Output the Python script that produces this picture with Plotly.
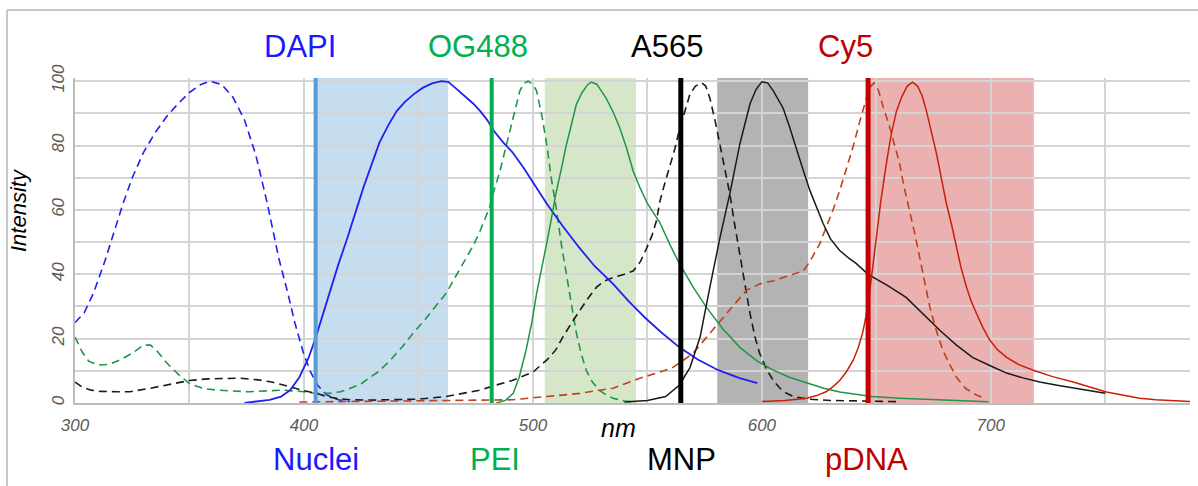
import plotly.graph_objects as go

# ---------------- data (wavelength nm, intensity %) ----------------
dapi_ex_x = [300, 304, 308, 313, 317, 321, 325, 330, 335, 340, 345, 350, 355, 359, 364, 369, 374, 379, 384, 389, 393, 396, 400, 403, 406, 410, 415, 420]
dapi_ex_y = [25, 28, 34, 44, 53, 62, 70, 78, 84, 89, 93, 96.5, 99, 100, 99, 95, 88, 77, 62, 45, 34, 25, 15, 9.5, 5.5, 2.5, 1, 0.4]

dapi_em_x = [374, 380, 385, 390, 394, 398, 402, 405, 408, 411, 415, 418.6, 422, 426, 430, 433, 437, 440.5, 444, 448, 452, 456, 460, 463, 466, 470, 474, 477, 480, 483, 487, 491, 496, 501, 506, 513, 520, 527, 535, 542, 549, 556, 564, 572, 581, 590, 598]
dapi_em_y = [0, 0.5, 1, 2, 4, 8, 14, 20, 27, 34, 43, 50.5, 58, 67, 75, 81, 86.5, 90.7, 93.5, 96, 98, 99.3, 100, 99.8, 98, 95.5, 93, 90.7, 88, 84.5, 81, 78, 73, 67.5, 62, 55, 48.5, 42.5, 37, 31.5, 26.5, 22, 17.3, 13.5, 10.2, 7.8, 6.2]

og_ex_x = [300, 303, 306, 310, 315, 320, 325, 330, 333, 336, 340, 345, 350, 356, 362, 370, 376, 385, 391, 400, 405, 411, 416, 420, 425, 430, 433, 438, 443, 448, 453, 458, 462, 466, 470, 474, 477, 481, 483, 485.6, 488, 490, 492, 494.3, 496, 498, 500, 501.6, 504, 506, 508, 510.3, 512.5, 514.7, 517, 519, 521, 523.4, 526, 529, 532, 535, 540, 545]
og_ex_y = [20.5, 16, 13, 11.8, 12, 13.5, 15.5, 18, 18, 16, 12.5, 9, 6, 4.5, 4, 3.7, 3.5, 3.8, 4, 3.5, 3, 3, 3.5, 4.5, 6, 8.5, 10, 13.5, 17.5, 22, 26, 30.5, 34, 39, 44, 49, 53.6, 60.7, 66, 72, 79, 85, 91, 97, 99.3, 100, 99, 97, 89, 80.5, 70, 60, 49, 39, 30, 21.7, 15.5, 10, 6.5, 4, 2.5, 1.5, 0.6, 0.3]

og_em_x = [484, 488, 491.4, 494, 497, 499.5, 501.6, 504, 506, 508, 510, 512.5, 514.7, 517, 519, 521.5, 524, 525.6, 528, 532, 535, 538, 541, 543.8, 546.7, 550, 555.5, 560, 564, 570, 575.8, 583, 590.4, 598, 605, 612, 619.5, 627, 634, 648, 660, 675, 690, 699]
og_em_y = [0, 0.8, 3, 8, 16.4, 25, 34, 42, 49.5, 57, 65, 73, 80.5, 87, 92.9, 96.5, 99, 99.7, 99, 94.7, 90.5, 85.4, 79, 72, 67, 62, 56, 49, 43.3, 36, 29.7, 23, 17.3, 13, 10.2, 8, 6.2, 4.6, 3.4, 2, 1.5, 1, 0.6, 0.4]

a565_ex_x = [300, 303, 307, 311, 318, 324, 333, 340, 344, 350, 358, 365, 372, 380, 386, 391, 396, 400, 405.5, 410, 415, 420, 430, 440, 450, 462, 470, 477, 484, 491, 500, 506, 510, 513, 517, 520.5, 524, 527.8, 531, 535, 540, 543.8, 547, 549.6, 552, 554, 555.5, 557.5, 559.8, 562, 564, 566, 568.6, 571, 573.7, 575.5, 577.3, 579.5, 581.7, 584, 586, 588, 590.4, 592.5, 594.8, 597, 599, 602, 605, 608, 610.8, 614, 620, 630, 640, 660]
a565_ex_y = [6.5, 5, 4, 3.6, 3.5, 3.5, 4.6, 5.5, 6.2, 7, 7.5, 7.7, 7.7, 7.2, 6.5, 5.6, 4.5, 3.8, 3, 2, 1.3, 1, 0.9, 1, 1.2, 2, 3, 4, 5.6, 7, 9.6, 13.3, 16.5, 20.4, 25, 28.8, 32.5, 36, 37.8, 39, 40, 41, 44, 48, 52, 56.7, 62.8, 68, 73.5, 79, 85, 90, 96, 98.5, 99.5, 98.5, 94.7, 88, 80.5, 72, 65, 56, 46.4, 37, 27.9, 20.5, 15.5, 10.5, 7, 4.5, 3, 2, 1.2, 0.8, 0.6, 0.4]

a565_em_x = [540, 550, 558, 564, 568.6, 573, 577.3, 581.7, 586, 590.4, 594.8, 597.5, 600, 602.5, 605, 609.3, 612, 615, 618, 621, 624, 626.8, 630, 634, 638, 641.3, 646.4, 650, 655, 663, 670, 677.7, 685, 692, 700, 706.9, 714, 721.4, 729, 736, 743, 750]
a565_em_y = [0.3, 0.8, 2, 5.6, 11, 20.4, 36, 51.4, 65, 80.5, 92.9, 97.5, 99.8, 99.5, 97, 91.6, 86, 79, 72.5, 66, 60.5, 55.7, 51, 47.4, 45, 43.3, 40, 38.5, 36.5, 32.8, 28, 22.6, 18, 14.2, 11.5, 9.3, 7.8, 6.5, 5.5, 4.6, 3.8, 3]

cy5_ex_x = [398, 410, 430, 450, 470, 480, 491, 506, 520.5, 535, 546.7, 555, 561, 564, 570, 575.8, 580, 584.6, 589, 593.3, 599, 605, 612, 618, 621, 625.3, 628, 631, 634, 637, 640, 642.8, 645, 647, 649, 651, 653, 656, 658, 660, 662, 664.6, 667, 669, 671, 673.4, 676, 679, 682, 685, 689, 693.7, 696]
cy5_ex_y = [0.3, 0.4, 0.5, 0.5, 0.7, 0.8, 1, 2, 3, 4.6, 7.7, 9.5, 11, 12.4, 15.5, 20.4, 24, 27.9, 31.5, 35, 37, 38, 39.5, 41, 44, 49.5, 54.5, 59.8, 66, 73, 80, 87.6, 93, 98, 99.5, 97, 92, 85.4, 80, 75, 67.5, 59.8, 52, 45, 37.5, 29.7, 23, 16.4, 12, 8, 4.5, 2.5, 1.8]

cy5_em_x = [600, 610, 619.5, 624, 628, 631, 634, 637, 639.9, 642, 644, 645.5, 647, 648.5, 650, 652, 654.5, 656.5, 658.8, 661, 663.5, 665.8, 668, 670, 671.9, 674, 676.3, 678.5, 680.6, 683, 685, 687, 689.4, 691.5, 693.7, 696.5, 699.6, 703, 706.9, 712, 718.5, 727, 736, 743, 750.5, 758, 765, 772, 779.6, 787]
cy5_em_y = [0.5, 0.8, 1.5, 2.3, 3.5, 5, 7, 9.8, 13.3, 17, 21.7, 27, 34, 43, 52.6, 63, 75, 83.5, 90.7, 95, 98.5, 99.7, 98.5, 95.5, 90.7, 84.5, 77.4, 69.5, 62, 55, 48.3, 42, 36, 31.5, 27.9, 23.5, 19.5, 16.5, 14.2, 12, 10.2, 8.2, 6.5, 5, 3.4, 2.4, 1.5, 1, 0.7, 0.5]

# filter bands (nm) and laser lines (nm)
band_lo = [404.8, 505.2, 580.5, 647.0]
band_hi = [462.9, 545.0, 620.2, 718.8]
laser_nm = [405.1, 482.0, 564.6, 646.4]

dye_labels = ["DAPI", "OG488", "A565", "Cy5"]
target_labels = ["Nuclei", "PEI", "MNP", "pDNA"]
x_ticks = [300, 400, 500, 600, 700]
y_ticks = [0, 20, 40, 60, 80, 100]

# ---------------- styling ----------------
SANS = "Liberation Sans, Arial, sans-serif"
dye_text_col = ["#1a1aff", "#00b050", "#000000", "#c00000"]
curve_col = ["#2020f0", "#1e9646", "#1a1a1a", "#c0401c"]
em_col = ["#2020f0", "#1e9646", "#1a1a1a", "#c8200a"]
band_fill = ["#c6dcef", "#d5e6c9", "#b3b3b3", "#ebb1b1"]
laser_col = ["#5b9bd5", "#00b050", "#000000", "#c00000"]
laser_w = [4, 4, 5, 5]

fig = go.Figure()

ex_sets = [(dapi_ex_x, dapi_ex_y), (og_ex_x, og_ex_y), (a565_ex_x, a565_ex_y), (cy5_ex_x, cy5_ex_y)]
em_sets = [(dapi_em_x, dapi_em_y), (og_em_x, og_em_y), (a565_em_x, a565_em_y), (cy5_em_x, cy5_em_y)]

for i, (xs, ys) in enumerate(ex_sets):
    fig.add_trace(go.Scatter(x=xs, y=ys, mode="lines", showlegend=False, hoverinfo="skip",
                             line=dict(color=curve_col[i], width=1.6, dash="8px,5px")))
for i, (xs, ys) in enumerate(em_sets):
    fig.add_trace(go.Scatter(x=xs, y=ys, mode="lines", showlegend=False, hoverinfo="skip",
                             line=dict(color=em_col[i], width=1.8 if i == 0 else 1.5)))

W, H = 1198, 486
L, R, T, B = 75, 8, 78, 83
pw, ph = W - L - R, H - T - B
def px(xp):
    return (xp - L) / pw
def py(yp):
    return (H - B - yp) / ph

shapes = []
for i in range(4):
    shapes.append(dict(type="rect", xref="x", yref="y", x0=band_lo[i], x1=band_hi[i], y0=0, y1=101,
                       fillcolor=band_fill[i], line=dict(width=0), layer="below"))
for i in range(4):
    shapes.append(dict(type="line", xref="x", yref="y", x0=laser_nm[i], x1=laser_nm[i], y0=0, y1=101,
                       line=dict(color=laser_col[i], width=laser_w[i]), layer="above"))
# outer frame (top and left edges)
shapes.append(dict(type="line", xref="paper", yref="paper", x0=px(7), x1=px(1200), y0=py(10), y1=py(10),
                   line=dict(color="#c8c8c8", width=2)))
shapes.append(dict(type="line", xref="paper", yref="paper", x0=px(7), x1=px(7), y0=py(10), y1=py(490),
                   line=dict(color="#c8c8c8", width=2)))

annotations = []
top_x_px = [300, 478, 667, 845]
bot_x_px = [316, 495, 681, 866]
for i in range(4):
    annotations.append(dict(text=dye_labels[i], xref="paper", yref="paper", x=px(top_x_px[i]), y=py(46),
                            xanchor="center", yanchor="middle", showarrow=False,
                            font=dict(family=SANS, size=31, color=dye_text_col[i])))
    annotations.append(dict(text=target_labels[i], xref="paper", yref="paper", x=px(bot_x_px[i]), y=py(459),
                            xanchor="center", yanchor="middle", showarrow=False,
                            font=dict(family=SANS, size=31, color=dye_text_col[i])))
annotations.append(dict(text="Intensity", xref="paper", yref="paper", x=px(18), y=py(210), textangle=-90,
                        xanchor="center", yanchor="middle", showarrow=False,
                        font=dict(family=SANS, size=22, color="#000000", style="italic")))
annotations.append(dict(text="nm", xref="paper", yref="paper", x=px(618), y=py(428),
                        xanchor="center", yanchor="middle", showarrow=False,
                        font=dict(family=SANS, size=25, color="#000000", style="italic")))

grid_col = "#d4d4d4"
tick_font = dict(family=SANS, size=17, color="#5a5a5a", style="italic")

fig.update_layout(
    width=W, height=H,
    margin=dict(l=L, r=R, t=T, b=B),
    paper_bgcolor="white", plot_bgcolor="white",
    shapes=shapes, annotations=annotations,
    xaxis=dict(range=[300, 787], tickvals=x_ticks, ticktext=[str(v) for v in x_ticks],
               showgrid=True, gridcolor=grid_col, gridwidth=1.5,
               minor=dict(dtick=50, tick0=300, showgrid=True, gridcolor=grid_col, gridwidth=1.5),
               showline=True, linecolor="#bdbdbd", linewidth=1.5, zeroline=False,
               ticks="", tickfont=tick_font, ticklabelstandoff=6),
    yaxis=dict(range=[0, 101], tickvals=y_ticks, ticktext=[str(v) for v in y_ticks],
               showgrid=True, gridcolor=grid_col, gridwidth=1.5,
               minor=dict(dtick=10, tick0=0, showgrid=True, gridcolor=grid_col, gridwidth=1.5),
               showline=True, linecolor="#bdbdbd", linewidth=1.5, zeroline=False,
               ticks="", tickfont=tick_font, tickangle=-90, ticklabelstandoff=2),
)

fig.write_html("out.html", config={"displayModeBar": False},
               post_script="document.body.style.margin='0';")
